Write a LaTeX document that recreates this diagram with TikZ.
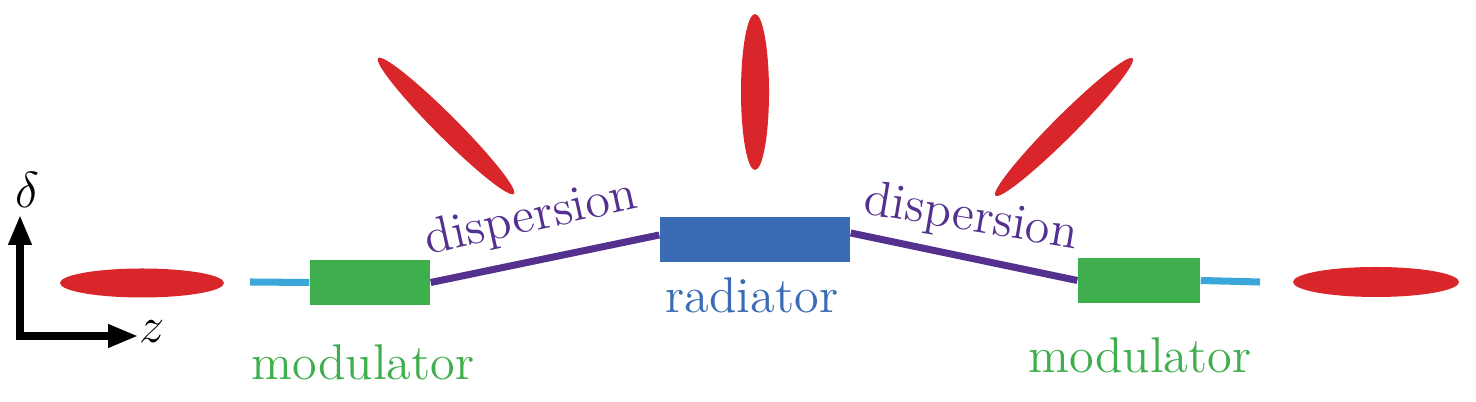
\documentclass[tikz,border=0pt]{standalone}
\usepackage{tikz}
\usetikzlibrary{positioning}
\usetikzlibrary{arrows.meta}
\definecolor{pulsered}{RGB}{217,38,42}
\definecolor{modgreen}{RGB}{63,174,76}
\definecolor{radblue}{RGB}{58,108,181}
\definecolor{beamcyan}{RGB}{58,166,218}
\definecolor{disppurple}{RGB}{85,49,143}

\begin{document}
\begin{tikzpicture}[
		pulse/.style={fill=pulsered, draw=none},
		modbox/.style={rectangle, fill=modgreen, minimum width=1.2cm, minimum height=0.45cm, inner sep=0pt},
		radbox/.style={rectangle, fill=radblue, minimum width=1.9cm, minimum height=0.45cm, inner sep=0pt},
		beamline/.style={beamcyan, line width=2pt},
		displine/.style={disppurple, line width=2pt},
		axisline/.style={line width=2pt, -{Triangle[length=3mm, width=2.2mm]}},
		lbl/.style={font=\fontsize{14.3}{17}\selectfont, anchor=base, inner sep=0pt}
	]
	\useasboundingbox (0, 0) rectangle (14.76, 4.02);

	% axes
	\coordinate (O) at (0.20, 0.66);
	\coordinate (D) at (0.20, 1.87);
	\coordinate (Z) at (1.38, 0.66);
	\draw[axisline] (O) -- (D);
	\draw[axisline] ([xshift=-1pt]O) -- (Z);
	\node[lbl, anchor=center] at (0.27, 2.12) {$\delta$};
	\node[lbl, anchor=center] at (1.52, 0.70) {$z$};

	% beamline
	\node[modbox] (modL) at (3.70, 1.195) {};
	\node[radbox] (rad) at (7.55, 1.625) {};
	\node[modbox, minimum width=1.22cm] (modR) at (11.39, 1.215) {};
	\coordinate (inL) at (2.50, 1.20);
	\coordinate (outR) at (12.60, 1.20);

	\draw[beamline] (inL) -- (modL.west);
	\draw[beamline] (modR.east) -- (outR);
	\draw[displine] (modL.east) -- ([yshift=0.45mm]rad.west);
	\draw[displine] ([yshift=0.65mm]rad.east) -- (modR.west);

	\node[lbl, text=modgreen] at (3.63, 0.22) {modulator};
	\node[lbl, text=radblue] at (7.52, 0.89) {radiator};
	\node[lbl, text=modgreen] at (11.40, 0.29) {modulator};
	\node[lbl, text=disppurple, rotate=12.4] at (5.34, 1.71) {dispersion};
	\node[lbl, text=disppurple, rotate=-9.6] at (9.69, 1.71) {dispersion};

	% electron bunches
	\fill[pulse] (1.42, 1.19) ellipse [x radius=0.82, y radius=0.145];
	\fill[pulse, rotate around={-45:(4.46, 2.76)}] (4.46, 2.76) ellipse [x radius=0.96, y radius=0.11];
	\fill[pulse] (7.55, 3.10) ellipse [x radius=0.14, y radius=0.78];
	\fill[pulse, rotate around={45:(10.64, 2.75)}] (10.64, 2.75) ellipse [x radius=0.97, y radius=0.11];
	\fill[pulse] (13.76, 1.20) ellipse [x radius=0.83, y radius=0.15];
\end{tikzpicture}
\end{document}
